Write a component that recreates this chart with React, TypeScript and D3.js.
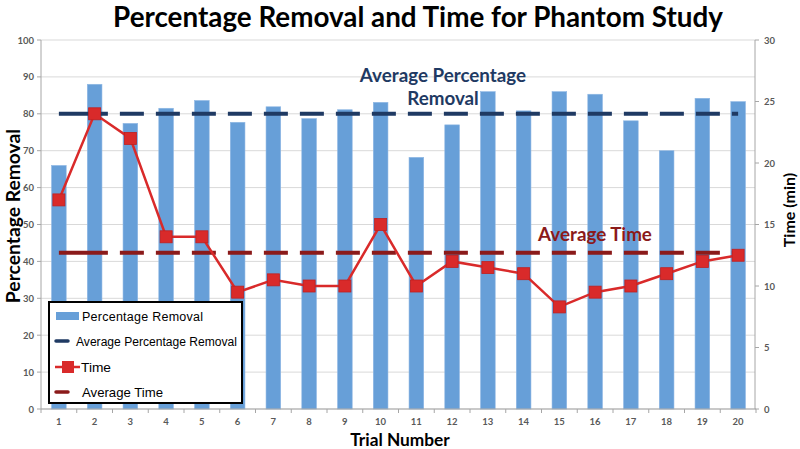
import React from "react";
import * as d3 from "d3";

const trials = ["1","2","3","4","5","6","7","8","9","10","11","12","13","14","15","16","17","18","19","20"];
const percentRemoval = [66, 88, 77.4, 81.5, 83.6, 77.7, 81.9, 78.7, 81.1, 83.1, 68.2, 77, 86, 80.8, 86, 85.3, 78.1, 70, 84.2, 83.3];
const timeMin = [17, 24, 22, 14, 14, 9.5, 10.5, 10, 10, 15, 10, 12, 11.5, 11, 8.3, 9.5, 10, 11, 12, 12.5];
const avgPercent = 80;
const avgTime = 12.7;
const leftTicks = [0, 10, 20, 30, 40, 50, 60, 70, 80, 90, 100];
const rightTicks = [0, 5, 10, 15, 20, 25, 30];

const W = 800, H = 449;
const X0 = 41, X1 = 756, Y0 = 409, Y1 = 40;

export default function App() {
  const x = d3.scaleBand<string>().domain(trials).range([X0, X1]).padding(0);
  const yL = d3.scaleLinear().domain([0, 100]).range([Y0, Y1]);
  const yR = d3.scaleLinear().domain([0, 30]).range([Y0, Y1]);
  const bw = x.bandwidth() * 0.41;
  const cx = (t: string) => (x(t) as number) + x.bandwidth() / 2;
  const line = d3.line<number>().x((_, i) => cx(trials[i])).y((d) => yR(d));
  const lx0 = cx(trials[0]);
  const lx1 = cx(trials[trials.length - 1]);
  const len = lx1 - lx0;
  const dash = (() => {
    const parts = ["49", "12"];
    let acc = 61;
    while (acc < len + 40) { parts.push("24", "12"); acc += 36; }
    return parts.join(" ");
  })();
  const font = "Lato, 'Open Sans', sans-serif";
  const lfont = "'Liberation Sans', Arial, sans-serif";
  const tickFont = { fontFamily: font, fontSize: 9.5, fill: "#595959", fontWeight: 700 } as const;
  const navy = "#1f3a63";
  const darkRed = "#8b1a1a";
  const red = "#d92a2a";
  const blue = "#679fd8";

  return (
    <svg width={W} height={H} style={{ position: "absolute", left: 0, top: 0, background: "#fff" }}>
      <text x={418} y={27} textAnchor="middle" fontFamily={font} fontWeight={700} fontSize={27.8} fill="#000">
        Percentage Removal and Time for Phantom Study
      </text>
      {leftTicks.map((t) => (
        <line key={"g" + t} x1={X0} x2={X1 - 1} y1={yL(t)} y2={yL(t)} stroke="#d9d9d9" strokeWidth={1} />
      ))}
      <line x1={X0} x2={X0} y1={Y1} y2={Y0} stroke="#a6a6a6" />
      <line x1={X1 - 1} x2={X1 - 1} y1={Y1} y2={Y0} stroke="#a6a6a6" />
      {leftTicks.map((t) => (
        <g key={"lt" + t}>
          <line x1={X0 - 4} x2={X0} y1={yL(t)} y2={yL(t)} stroke="#a6a6a6" />
          <text x={X0 - 7} y={yL(t) + 3.5} textAnchor="end" {...tickFont}>{t}</text>
        </g>
      ))}
      {rightTicks.map((t) => (
        <g key={"rt" + t}>
          <line x1={X1 - 1} x2={X1 + 3} y1={yR(t)} y2={yR(t)} stroke="#a6a6a6" />
          <text x={X1 + 8} y={yR(t) + 3.5} textAnchor="start" {...tickFont}>{t}</text>
        </g>
      ))}
      {percentRemoval.map((v, i) => (
        <rect key={"b" + i} x={cx(trials[i]) - bw / 2} y={yL(v)} width={bw} height={Y0 - yL(v)} fill={blue} stroke="#8fb8e4" strokeWidth={0.6} />
      ))}
      <line x1={X0} x2={X1} y1={Y0} y2={Y0} stroke="#a6a6a6" />
      {trials.map((t) => (
        <g key={"xt" + t}>
          <line x1={x(t) as number} x2={x(t) as number} y1={Y0} y2={Y0 + 4} stroke="#a6a6a6" />
          <text x={cx(t)} y={Y0 + 16} textAnchor="middle" {...tickFont}>{t}</text>
        </g>
      ))}
      <line x1={X1} x2={X1} y1={Y0} y2={Y0 + 4} stroke="#a6a6a6" />
      <line x1={lx0} x2={lx1} y1={yL(avgPercent)} y2={yL(avgPercent)} stroke={navy} strokeWidth={4} strokeDasharray={dash} />
      <line x1={lx0} x2={lx1} y1={yR(avgTime)} y2={yR(avgTime)} stroke={darkRed} strokeWidth={4} strokeDasharray={dash} />
      <path d={line(timeMin) as string} fill="none" stroke={red} strokeWidth={2.5} />
      {timeMin.map((v, i) => (
        <rect key={"m" + i} x={cx(trials[i]) - 6} y={yR(v) - 6} width={12} height={12} fill={red} stroke="#c02020" strokeWidth={0.8} />
      ))}
      <text x={443} y={82} textAnchor="middle" fontFamily={font} fontWeight={700} fontSize={18.8} fill={navy}>Average Percentage</text>
      <text x={443} y={105} textAnchor="middle" fontFamily={font} fontWeight={700} fontSize={18.8} fill={navy}>Removal</text>
      <text x={595} y={241} textAnchor="middle" fontFamily={font} fontWeight={700} fontSize={18.8} fill={darkRed}>Average Time</text>
      <text transform={`translate(19.5,216) rotate(-90)`} textAnchor="middle" fontFamily={font} fontWeight={700} fontSize={19.3} fill="#000">Percentage Removal</text>
      <text transform={`translate(795,210) rotate(-90)`} textAnchor="middle" fontFamily={font} fontWeight={700} fontSize={16} fill="#000">Time (min)</text>
      <text x={400} y={446} textAnchor="middle" fontFamily={font} fontWeight={700} fontSize={17.3} fill="#000">Trial Number</text>
      <g>
        <rect x={49} y={302} width={193} height={101} fill="#fff" stroke="#000" strokeWidth={2} />
        <rect x={56} y={312} width={23} height={8} fill={blue} />
        <text x={82} y={320.5} fontFamily={lfont} fontSize={12.5} textLength={121} lengthAdjust="spacing" fill="#000">Percentage Removal</text>
        <line x1={56} x2={68} y1={341} y2={341} stroke={navy} strokeWidth={3.5} strokeLinecap="round" />
        <text x={76} y={346} fontFamily={lfont} fontSize={12.5} textLength={161} lengthAdjust="spacingAndGlyphs" fill="#000">Average Percentage Removal</text>
        <line x1={55} x2={80} y1={367} y2={367} stroke={red} strokeWidth={2.5} />
        <rect x={62} y={361} width={12} height={12} fill={red} />
        <text x={81} y={372} fontFamily={lfont} fontSize={13.5} textLength={30} lengthAdjust="spacingAndGlyphs" fill="#000">Time</text>
        <line x1={56} x2={68} y1={392} y2={392} stroke={darkRed} strokeWidth={3.5} strokeLinecap="round" />
        <text x={82} y={397} fontFamily={lfont} fontSize={13.5} textLength={81} lengthAdjust="spacingAndGlyphs" fill="#000">Average Time</text>
      </g>
    </svg>
  );
}
